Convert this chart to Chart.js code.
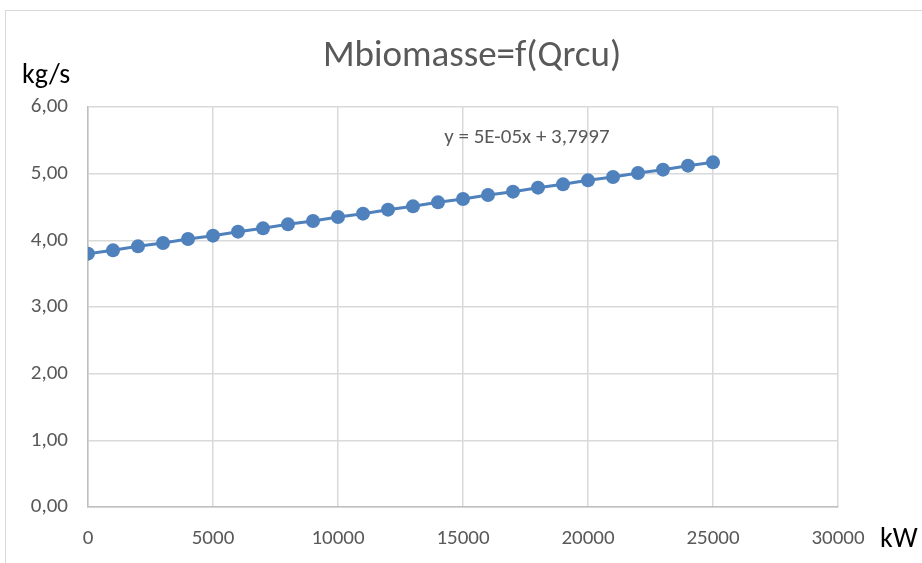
<!DOCTYPE html>
<html>
<head>
<meta charset="utf-8">
<script src="https://cdn.jsdelivr.net/npm/chart.js@4.4.1/dist/chart.umd.min.js"></script>
<style>
  html, body { margin: 0; padding: 0; background: #fff; }
  #wrap { position: relative; width: 922px; height: 563px; }
</style>
</head>
<body>
<div id="wrap"><canvas id="chart" width="922" height="563"></canvas></div>
<script>
// Qrcu (kW) and Mbiomasse (kg/s)
const qrcu = [0, 1000, 2000, 3000, 4000, 5000, 6000, 7000, 8000, 9000, 10000, 11000, 12000,
    13000, 14000, 15000, 16000, 17000, 18000, 19000, 20000, 21000, 22000, 23000, 24000, 25000];
const mBiomasse = [3.80, 3.85, 3.91, 3.96, 4.02, 4.07, 4.13, 4.18, 4.24, 4.29, 4.35, 4.40, 4.46,
    4.51, 4.57, 4.62, 4.68, 4.73, 4.79, 4.84, 4.90, 4.95, 5.01, 5.06, 5.12, 5.17];
const xTicks = [0, 5000, 10000, 15000, 20000, 25000, 30000];
const yTicks = [0, 1, 2, 3, 4, 5, 6];

const chartTitle = 'Mbiomasse=f(Qrcu)';
const yUnit = 'kg/s';
const xUnit = 'kW';
const trendLabel = 'y = 5E-05x + 3,7997';

const font = "Calibri, Carlito, 'Liberation Sans Narrow', 'Open Sans', sans-serif";
const grey = '#595959';
const blue = '#4f81bd';

const points = qrcu.map((x, i) => ({ x: x, y: mBiomasse[i] }));

// texts and frame drawn around the plot
const decorPlugin = {
    id: 'decor',
    beforeDraw(chart) {
        const ctx = chart.ctx;
        ctx.save();
        ctx.fillStyle = '#fff';
        ctx.fillRect(0, 0, chart.width, chart.height);
        ctx.strokeStyle = '#d9d9d9';
        ctx.lineWidth = 1;
        ctx.strokeRect(5.5, 10.5, chart.width + 20, chart.height + 20);
        ctx.restore();
    },
    afterDraw(chart) {
        const ctx = chart.ctx;
        const x = chart.scales.x;
        const y = chart.scales.y;
        ctx.save();
        ctx.textBaseline = 'middle';

        ctx.fillStyle = grey;
        ctx.font = '37px ' + font;
        ctx.textAlign = 'center';
        ctx.fillText(chartTitle, 472, 57);

        ctx.fillStyle = '#000';
        ctx.font = '28px ' + font;
        ctx.textAlign = 'left';
        ctx.fillText(yUnit, 22, 76);
        ctx.fillText(xUnit, 880, 540);

        ctx.fillStyle = grey;
        ctx.font = '21px ' + font;
        ctx.textAlign = 'left';
        ctx.fillText(trendLabel, x.getPixelForValue(14250), y.getPixelForValue(5.54));
        ctx.restore();
    }
};

new Chart(document.getElementById('chart'), {
    type: 'scatter',
    data: {
        datasets: [{
            label: 'Mbiomasse',
            data: points,
            showLine: true,
            borderColor: blue,
            backgroundColor: blue,
            borderWidth: 3,
            pointRadius: 7,
            pointHoverRadius: 7,
            pointBorderWidth: 0
        }]
    },
    options: {
        responsive: false,
        animation: false,
        devicePixelRatio: 1,
        layout: { padding: { left: 0, top: 107, right: 84, bottom: 0 } },
        plugins: {
            legend: { display: false },
            tooltip: { enabled: false },
            title: { display: false }
        },
        scales: {
            x: {
                type: 'linear',
                min: 0,
                max: 30000,
                afterBuildTicks: (scale) => { scale.ticks = xTicks.map(v => ({ value: v })); },
                afterFit: (scale) => { scale.height = 56; },
                grid: { color: '#d9d9d9', lineWidth: 1.5, drawTicks: false },
                border: { color: '#bfbfbf', width: 1.5 },
                ticks: {
                    padding: 19,
                    color: grey,
                    font: { family: font, size: 21 },
                    callback: (v) => String(v)
                }
            },
            y: {
                type: 'linear',
                min: 0,
                max: 6,
                afterBuildTicks: (scale) => { scale.ticks = yTicks.map(v => ({ value: v })); },
                afterFit: (scale) => { scale.width = 88; },
                grid: { color: '#d9d9d9', lineWidth: 1.5, drawTicks: false },
                border: { color: '#bfbfbf', width: 1.5 },
                ticks: {
                    padding: 20,
                    color: grey,
                    font: { family: font, size: 21 },
                    callback: (v) => v.toFixed(2).replace('.', ',')
                }
            }
        }
    },
    plugins: [decorPlugin]
});
</script>
</body>
</html>
